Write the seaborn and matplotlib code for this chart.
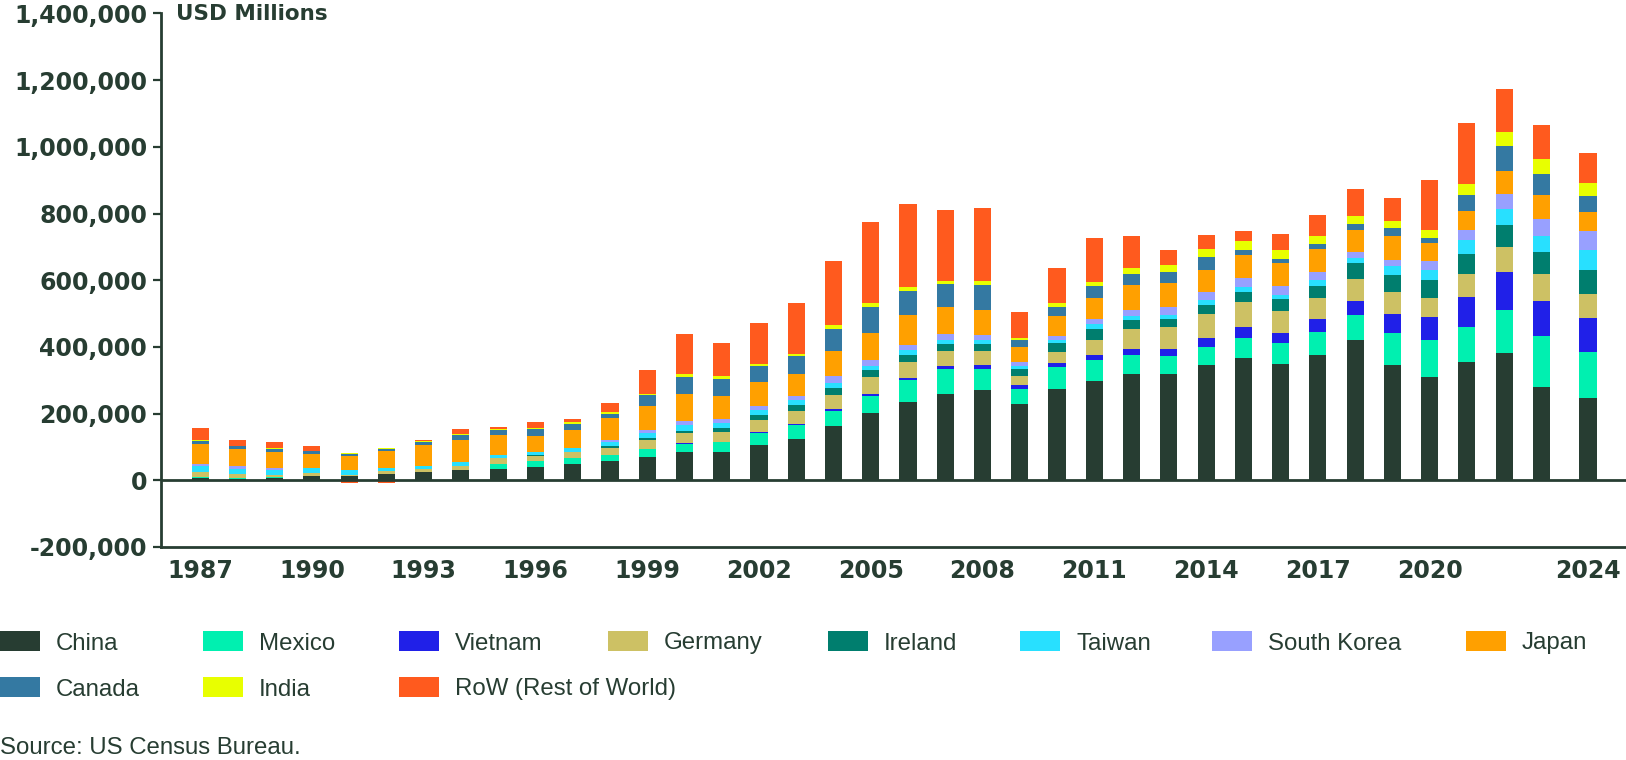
import numpy as np
import pandas as pd
import matplotlib
matplotlib.use("Agg")
import matplotlib.pyplot as plt
from matplotlib.patches import Rectangle
from matplotlib.ticker import FuncFormatter
import seaborn as sns

# ---------------- data (USD billions, converted to USD millions below) ----------------
years = list(range(1987, 2025))

china = [6, 5, 7, 13, 12, 20, 25, 32, 35, 40,
         49, 58, 70, 85, 85, 105, 125, 162, 202, 235,
         260, 270, 228, 275, 297, 318, 320, 346, 367, 348,
         377, 420, 345, 310, 355, 382, 280, 247]
mexico = [5, 2, 2, 1, 0, 0, -2, 0, 15, 17,
          17, 17, 23, 25, 30, 38, 40, 46, 51, 65,
          75, 65, 46, 65, 63, 59, 54, 54, 60, 64,
          67, 76, 96, 110, 105, 130, 152, 139]
vietnam = [0, 0, 0, 0, 0, 0, 0, 0, 0, 0,
           0, 0, 0, 1, 1, 2, 4, 6, 7, 8,
           8, 11, 11, 13, 15, 16, 21, 26, 33, 30,
           41, 41, 59, 70, 89, 114, 105, 102]
germany = [13, 13, 7, 8, 5, 7, 8, 11, 16, 15,
           19, 22, 29, 30, 30, 37, 38, 43, 50, 47,
           45, 42, 28, 32, 47, 61, 65, 74, 74, 65,
           62, 67, 64, 57, 71, 75, 83, 70]
ireland = [1, 0, 1, 0, 0, 0, 0, -2, 0, 3,
           1, 5, 5, 7, 11, 15, 20, 20, 20, 20,
           22, 22, 22, 27, 32, 26, 25, 27, 30, 38,
           37, 48, 52, 55, 59, 66, 64, 72]
taiwan = [17, 14, 13, 14, 13, 10, 11, 12, 9, 10,
          12, 13, 15, 17, 14, 13, 13, 16, 13, 17,
          12, 12, 9, 10, 16, 14, 12, 13, 15, 12,
          17, 16, 26, 30, 41, 46, 48, 62]
south_korea = [8, 8, 7, 1, 1, 0, 0, 0, -3, -3,
               -2, 7, 8, 14, 12, 14, 13, 19, 18, 13,
               16, 13, 11, 10, 15, 18, 22, 25, 28, 27,
               24, 17, 20, 25, 30, 46, 51, 55]
japan = [58, 51, 48, 43, 42, 50, 61, 65, 60, 48,
         54, 65, 73, 79, 70, 70, 66, 75, 81, 90,
         82, 75, 45, 60, 62, 74, 72, 67, 69, 68,
         68, 66, 70, 55, 59, 68, 73, 58]
canada = [10, 10, 10, 7, 7, 7, 10, 15, 15, 21,
          17, 13, 32, 53, 52, 48, 53, 68, 78, 72,
          70, 77, 20, 27, 35, 33, 33, 37, 16, 11,
          16, 18, 25, 15, 47, 76, 63, 49]
india = [3, 1, 1, 1, 3, 4, 4, 3, 4, 4,
         5, 5, 5, 8, 7, 8, 8, 10, 12, 12,
         7, 10, 6, 13, 13, 18, 21, 24, 25, 27,
         23, 23, 22, 23, 33, 41, 44, 37]
row = [35, 18, 18, 15, -9, -9, 3, 15, 7, 16,
       9, 27, 72, 120, 101, 122, 152, 193, 243, 251,
       213, 220, 79, 106, 133, 95, 45, 43, 30, 48,
       63, 81, 69, 152, 183, 130, 102, 92]

series_names = ["China", "Mexico", "Vietnam", "Germany", "Ireland", "Taiwan",
                "South Korea", "Japan", "Canada", "India", "RoW (Rest of World)"]
series_values = [china, mexico, vietnam, germany, ireland, taiwan,
                 south_korea, japan, canada, india, row]
colors = ["#273d32", "#00f0b0", "#2020e8", "#cdc164", "#007e6e", "#28e0ff",
          "#98a0ff", "#ffa000", "#3479a2", "#e8ff00", "#ff5a1e"]

tick_years = [1987, 1990, 1993, 1996, 1999, 2002, 2005, 2008, 2011, 2014, 2017, 2020, 2024]
y_ticks = [-200000, 0, 200000, 400000, 600000, 800000, 1000000, 1200000, 1400000]

df = pd.DataFrame({n: np.array(v) * 1000 for n, v in zip(series_names, series_values)},
                  index=years)

# ---------------- style ----------------
sns.set_theme(style="white")
TXT = "#273d32"
plt.rcParams["font.family"] = ["DejaVu Sans"]

W, H = 1626, 760
fig = plt.figure(figsize=(W / 100, H / 100), dpi=100)
ax_left, ax_right, ax_top, ax_bottom = 161, 1626, 13.5, 547
ax = fig.add_axes([ax_left / W, 1 - ax_bottom / H,
                   (ax_right - ax_left) / W, (ax_bottom - ax_top) / H])

# bar positions (2024 sits slightly apart in the original layout)
pos = np.arange(len(years), dtype=float)
pos[-1] += 0.25
bar_w = 0.46

pos_base = np.zeros(len(years))
neg_base = np.zeros(len(years))
for name, col in zip(series_names, colors):
    v = df[name].values.astype(float)
    p = np.where(v > 0, v, 0)
    n = np.where(v < 0, v, 0)
    ax.bar(pos, p, bottom=pos_base, width=bar_w, color=col, linewidth=0, zorder=2)
    ax.bar(pos, n, bottom=neg_base, width=bar_w, color=col, linewidth=0, zorder=2)
    pos_base += p
    neg_base += n

ax.axhline(0, color=TXT, lw=2, zorder=4)

ax.set_ylim(-200000, 1400000)
ax.set_xlim(-1.05, pos[-1] + 1.02)
ax.set_yticks(y_ticks)
ax.yaxis.set_major_formatter(FuncFormatter(lambda v, _: f"{v:,.0f}"))
ax.set_xticks([pos[years.index(y)] for y in tick_years])
ax.set_xticklabels([str(y) for y in tick_years])

for lab in ax.get_yticklabels() + ax.get_xticklabels():
    lab.set_fontweight("bold")
    lab.set_fontsize(17)
    lab.set_color(TXT)

ax.tick_params(axis="y", length=6, width=1.6, color=TXT, pad=4, left=True)
ax.tick_params(axis="x", length=0, pad=9)
sns.despine(ax=ax, top=True, right=True)
for s in ["left", "bottom"]:
    ax.spines[s].set_color(TXT)
    ax.spines[s].set_linewidth(2)
ax.grid(False)
ax.set_facecolor("white")

ax.text(176 / W, 1 - 14 / H, "USD Millions", transform=fig.transFigure,
        fontsize=15.5, fontweight="bold", color=TXT, ha="left", va="center")

# ---------------- legend (two rows, flow layout) ----------------
leg_font = ["Liberation Sans", "DejaVu Sans"]
row1_x = [0, 203, 399, 608, 828, 1020, 1212, 1466]
row2_x = [0, 203, 399]
row_y = [641, 687]
slots = [(x, row_y[0]) for x in row1_x] + [(x, row_y[1]) for x in row2_x]
sw, sh = 40, 20
for (x, y), name, col in zip(slots, series_names, colors):
    fig.patches.append(Rectangle((x / W, 1 - (y + sh / 2) / H), sw / W, sh / H,
                                 transform=fig.transFigure, facecolor=col,
                                 edgecolor="none", figure=fig))
    fig.text((x + sw + 16) / W, 1 - y / H, name, fontsize=17.3, color=TXT,
             family=leg_font, ha="left", va="center_baseline")

fig.text(0 / W, 1 - 745 / H, "Source: US Census Bureau.", fontsize=17.3,
         color=TXT, family=leg_font, ha="left", va="center_baseline")

fig.savefig("out.png", dpi=100, facecolor="white")
